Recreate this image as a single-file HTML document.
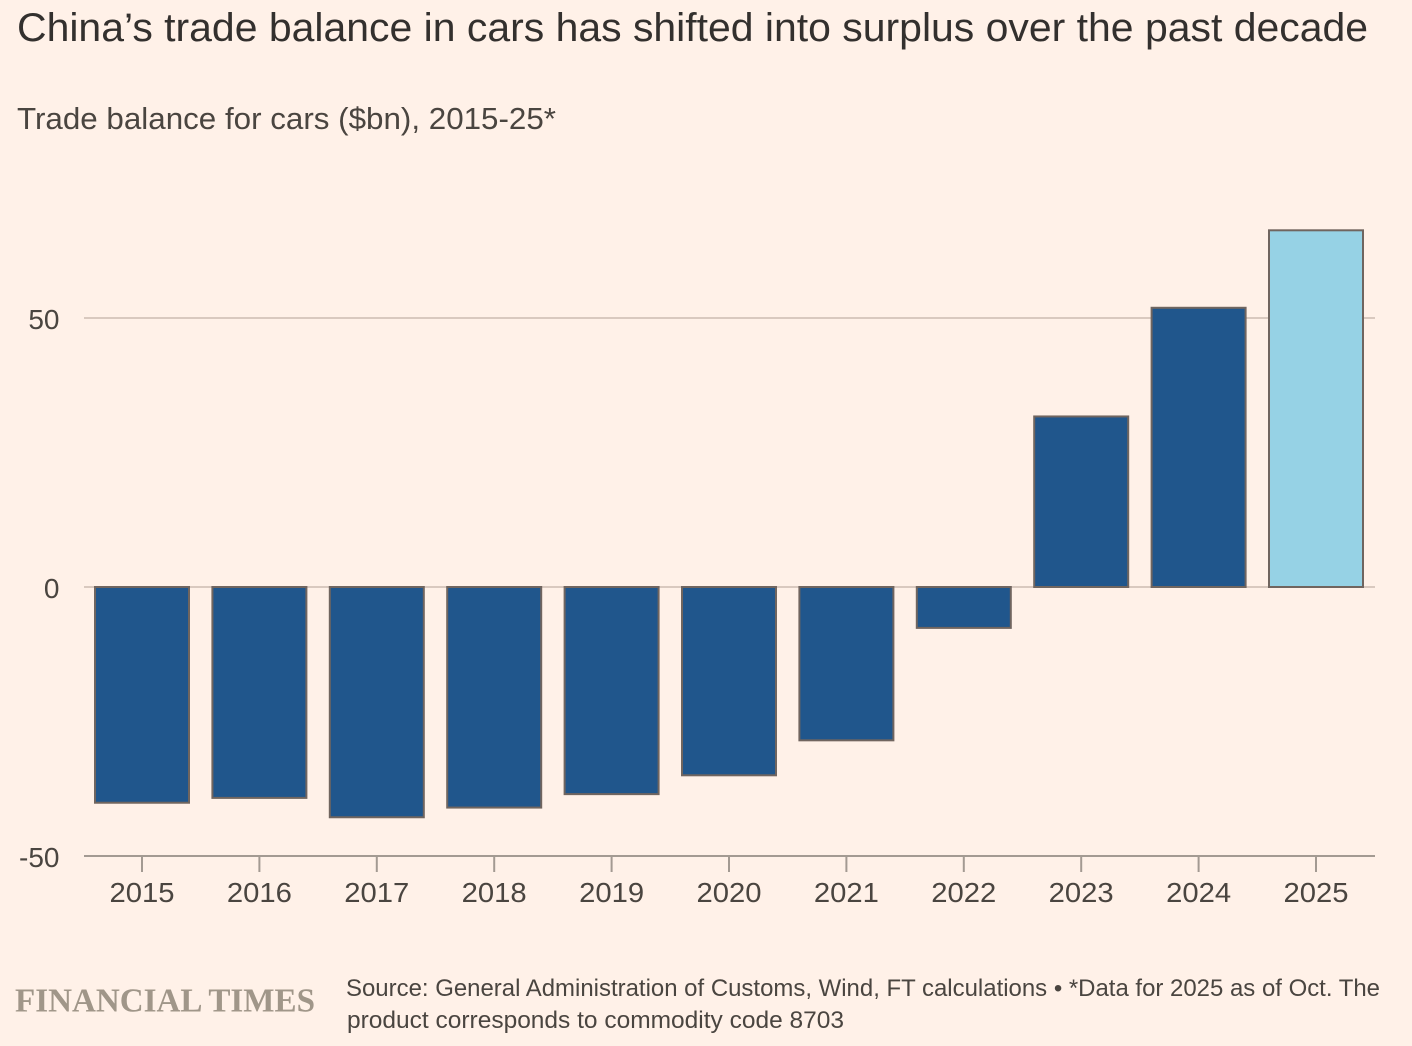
<!DOCTYPE html>
<html lang="en">
<head>
<meta charset="utf-8">
<title>China's trade balance in cars</title>
<style>
html,body{margin:0;padding:0;background:#fff1e8;}
svg{display:block;font-family:"Liberation Sans",sans-serif;}
</style>
</head>
<body>
<svg id="chart" xmlns="http://www.w3.org/2000/svg" width="1412" height="1046" viewBox="0 0 1412 1046">
<rect x="0" y="0" width="1412" height="1046" fill="#fff1e8"/>
<text x="17" y="41" font-size="40" fill="#33302e" textLength="1351" lengthAdjust="spacingAndGlyphs">China’s trade balance in cars has shifted into surplus over the past decade</text>
<text x="17" y="129" font-size="31" fill="#4a4540" textLength="539" lengthAdjust="spacingAndGlyphs">Trade balance for cars ($bn), 2015-25*</text>
<g id="grid"></g>
<g id="bars"></g>
<g id="axis"></g>
<text x="15" y="1011.5" font-family="'Liberation Serif',serif" font-weight="700" font-size="34" fill="#a09689" textLength="300" lengthAdjust="spacingAndGlyphs">FINANCIAL TIMES</text>
<text x="346" y="996" font-size="24.5" fill="#4a4540" textLength="1034" lengthAdjust="spacingAndGlyphs">Source: General Administration of Customs, Wind, FT calculations • *Data for 2025 as of Oct. The</text>
<text x="347" y="1028" font-size="24.5" fill="#4a4540" textLength="497" lengthAdjust="spacingAndGlyphs">product corresponds to commodity code 8703</text>
</svg>
<script>
const years = ['2015','2016','2017','2018','2019','2020','2021','2022','2023','2024','2025'];
const balance = [-40.1,-39.2,-42.8,-41,-38.5,-35,-28.5,-7.6,31.7,51.9,66.3];
const yTicks = [50,0,-50];
const NS = 'http://www.w3.org/2000/svg';
const y = v => 587 - v * 5.38;
const x = i => 142 + i * 117.4;
const BAR_W = 94;
function mk(tag, attrs, parent, txt) {
  const el = document.createElementNS(NS, tag);
  for (const k in attrs) el.setAttribute(k, attrs[k]);
  if (txt !== undefined) el.textContent = txt;
  parent.appendChild(el);
  return el;
}
const grid = document.getElementById('grid');
const bars = document.getElementById('bars');
const axis = document.getElementById('axis');
yTicks.forEach(t => {
  const isBase = t === -50;
  const line = mk('line', {x1: 84, x2: 1375, y1: y(t), y2: y(t), stroke: isBase ? '#a39a92' : '#d9c9bf', 'stroke-width': 2}, isBase ? axis : grid);
  
  
  const label = mk('text', {x: 59.5, y: y(t) + 11, 'text-anchor': 'end', 'font-size': 28, fill: '#4a4540'}, axis, String(t));
  
  
});
balance.forEach((v, i) => {
  const top = Math.min(y(v), y(0));
  const h = Math.abs(y(v) - y(0));
  const isPartial = years[i] === '2025';
  const bar = mk('rect', {x: x(i) - BAR_W / 2, y: top, width: BAR_W, height: h, fill: isPartial ? '#96d2e5' : '#20568c', stroke: '#70655f', 'stroke-width': 2}, bars);
  
  
  const tick = mk('line', {x1: x(i), x2: x(i), y1: y(-50), y2: y(-50) + 16, stroke: '#a39a92', 'stroke-width': 2}, axis);
  
  
  const label = mk('text', {x: x(i), y: 902, 'text-anchor': 'middle', 'font-size': 28, fill: '#4a4540', textLength: 65, lengthAdjust: 'spacingAndGlyphs'}, axis, years[i]);
  
  
});
</script>
</body>
</html>
